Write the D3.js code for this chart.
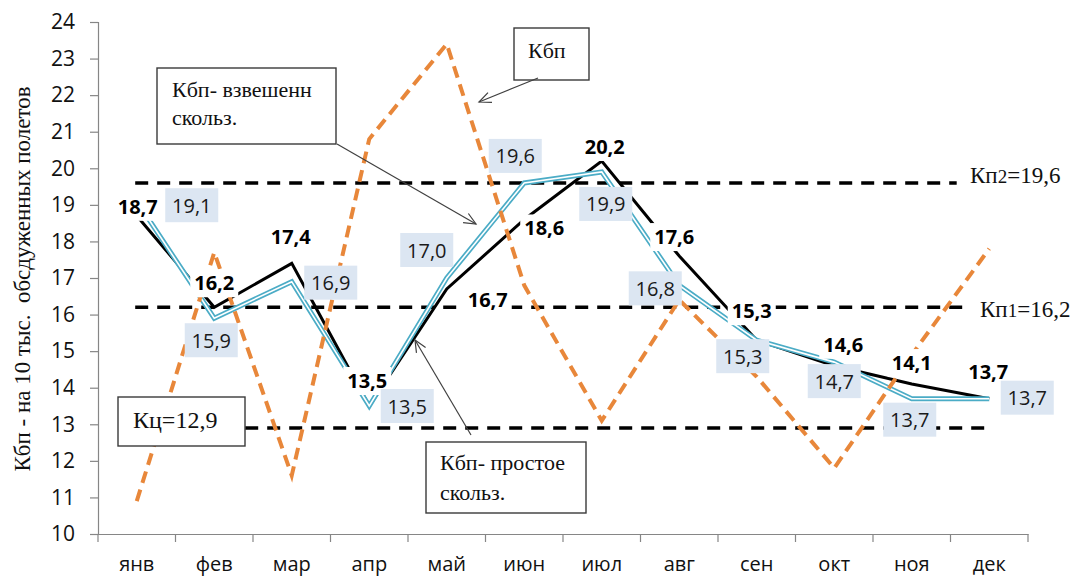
<!DOCTYPE html>
<html>
<head>
<meta charset="utf-8">
<script src="https://cdn.jsdelivr.net/npm/d3@7"></script>
<style>
  html, body { margin: 0; padding: 0; background: #fff; }
  svg { display: block; }
  .serif { font-family: "Liberation Serif", "Times New Roman", serif; fill: #111; }
  .sans { font-family: "Open Sans", "Noto Sans", sans-serif; }
</style>
</head>
<body>
<svg id="chart" width="1078" height="577"></svg>
<script>
// Months of the year
const months = ["янв", "фев", "мар", "апр", "май", "июн", "июл", "авг", "сен", "окт", "ноя", "дек"];

// Кбп — monthly coefficient
const kbp = [10.9, 17.7, 11.6, 20.8, 23.4, 16.8, 13.1, 16.4, 14.3, 11.8, 14.9, 17.8];

// Кбп — simple moving average
const kbpSimple = [18.7, 16.2, 17.4, 13.5, 16.7, 18.6, 20.2, 17.6, 15.3, 14.6, 14.1, 13.7];

// Кбп — weighted moving average
const kbpWeighted = [19.1, 15.9, 16.9, 13.5, 17.0, 19.6, 19.9, 16.8, 15.3, 14.7, 13.7, 13.7];

// Reference levels
const levelNames = ["Кп2", "Кп1", "Кц"];
const levelValues = [19.6, 16.2, 12.9];

// Y axis ticks
const yTickValues = [10, 11, 12, 13, 14, 15, 16, 17, 18, 19, 20, 21, 22, 23, 24];

// ---- layout ----
const svg = d3.select("#chart");
const plot = { left: 98, right: 1028, top: 22, bottom: 534 };

const x = d3.scaleBand().domain(months).range([plot.left, plot.right]).paddingInner(0).paddingOuter(0);
const cx = m => x(m) + x.bandwidth() / 2;
const xIdx = d3.scaleLinear().domain([0, months.length - 1]).range([cx(months[0]), cx(months[months.length - 1])]);
const y = d3.scaleLinear().domain([10, 24]).range([plot.bottom, plot.top]);

const fmt = v => d3.format(".1f")(v).replace(".", ",");

// label placement offsets (dx, dy) from each point
const simpleLabelOffset = [[1,-9],[0,-24],[-1,-26],[-2,-25],[41,11],[20,9],[3,-14],[-5,-19],[-5,-29],[9,-21],[0,-21],[-1,-27]];
const weightedLabelOffset = [[55,4],[-3,22],[39,1],[38,0],[-20,-28],[-9,-27],[4,32],[-24,3],[-14,16],[0,19],[-2,21],[38,-1]];

// ---- axes ----
const gy = svg.append("g").attr("transform", `translate(${plot.left},0)`)
  .call(d3.axisLeft(y).tickValues(yTickValues).tickSize(8).tickPadding(15).tickFormat(d3.format("d")));
gy.select(".domain").attr("stroke", "#868686").attr("stroke-width", 1.2);
gy.selectAll(".tick line").attr("stroke", "#868686").attr("stroke-width", 1.2);
gy.selectAll(".tick text").attr("class", "sans").attr("font-size", 21).attr("fill", "#111");

const gx = svg.append("g").attr("transform", `translate(0,${plot.bottom})`)
  .call(d3.axisBottom(x).tickSize(0).tickPadding(0));
gx.select(".domain").attr("stroke", "#868686").attr("stroke-width", 1.2);
gx.selectAll(".tick text").attr("class", "sans").attr("font-size", 20).attr("fill", "#111")
  .attr("dy", null).attr("y", 37);
// tick marks between categories
const bounds = months.map(m => x(m)).concat([plot.right]);
gx.selectAll(".sep").data(bounds).join("line").attr("class", "sep")
  .attr("x1", d => d).attr("x2", d => d).attr("y1", 0).attr("y2", 8)
  .attr("stroke", "#868686").attr("stroke-width", 1.2);

// y axis title
svg.append("text").attr("class", "serif")
  .attr("transform", "translate(30,279) rotate(-90)")
  .attr("text-anchor", "middle").attr("font-size", 23)
  .style("white-space", "pre")
  .text("Кбп - на 10 тыс.  обсдуженных полетов");

// ---- reference levels ----
const levelEnds = [10.58, 10.66, 10.96];
svg.append("g").selectAll("line").data(levelValues).join("line")
  .attr("x1", xIdx(-0.02)).attr("x2", (d, i) => xIdx(levelEnds[i]))
  .attr("y1", d => y(d)).attr("y2", d => y(d))
  .attr("stroke", "#000").attr("stroke-width", 3.5).attr("stroke-dasharray", "13,9");

// ---- series lines ----
const line = d3.line().x((d, i) => cx(months[i])).y(d => y(d));

svg.append("path").datum(kbpSimple).attr("d", line)
  .attr("fill", "none").attr("stroke", "#000").attr("stroke-width", 3).attr("stroke-linejoin", "miter");

svg.append("path").datum(kbpWeighted).attr("d", line)
  .attr("fill", "none").attr("stroke", "#4bacc6").attr("stroke-width", 5).attr("stroke-linejoin", "miter");
svg.append("path").datum(kbpWeighted).attr("d", line)
  .attr("fill", "none").attr("stroke", "#fff").attr("stroke-width", 1.6).attr("stroke-linejoin", "miter");

svg.append("path").datum(kbp).attr("d", line)
  .attr("fill", "none").attr("stroke", "#e8873a").attr("stroke-width", 4)
  .attr("stroke-dasharray", "12,7").attr("stroke-linejoin", "miter");

// ---- data labels ----
const simpleLabels = svg.append("g").selectAll("g").data(kbpSimple).join("g")
  .attr("transform", (d, i) => `translate(${cx(months[i]) + simpleLabelOffset[i][0]},${y(d) + simpleLabelOffset[i][1]})`);
simpleLabels.append("rect").attr("class", "bg").attr("fill", "#fff");
simpleLabels.append("text").attr("class", "sans").attr("font-size", 20).attr("font-weight", 700)
  .attr("fill", "#000").attr("text-anchor", "middle").attr("y", 7).text(d => fmt(d));
simpleLabels.each(function () {
  const g = d3.select(this);
  const bb = g.select("text").node().getBBox();
  g.select("rect").attr("x", bb.x - 4).attr("y", -14).attr("width", bb.width + 8).attr("height", 28);
});

const weightedLabels = svg.append("g").selectAll("g").data(kbpWeighted).join("g")
  .attr("transform", (d, i) => `translate(${cx(months[i]) + weightedLabelOffset[i][0]},${y(d) + weightedLabelOffset[i][1]})`);
weightedLabels.append("rect").attr("x", -26.5).attr("y", -17).attr("width", 53).attr("height", 34).attr("fill", "#dce6f2");
weightedLabels.append("text").attr("class", "sans").attr("font-size", 20)
  .attr("fill", "#1a1a1a").attr("text-anchor", "middle").attr("y", 7.5).text(d => fmt(d));

// ---- level captions ----
const levelCaption = [[970, 183], [980, 317]];
levelCaption.forEach(([lx, ly], i) => {
  const t = svg.append("text").attr("class", "serif").attr("x", lx).attr("y", ly).attr("font-size", 23);
  t.append("tspan").text(levelNames[i].slice(0, 2));
  t.append("tspan").attr("font-size", 19).text(levelNames[i].slice(2));
  t.append("tspan").text("=" + fmt(levelValues[i]));
});

// ---- callouts ----
function box(x0, y0, w, h) {
  svg.append("rect").attr("x", x0).attr("y", y0).attr("width", w).attr("height", h)
    .attr("fill", "#fff").attr("stroke", "#3a3a3a").attr("stroke-width", 1.4);
}
function arrow(x1, y1, x2, y2) {
  const a = Math.atan2(y2 - y1, x2 - x1), L = 13, s = 0.42;
  svg.append("line").attr("x1", x1).attr("y1", y1).attr("x2", x2).attr("y2", y2)
    .attr("stroke", "#404040").attr("stroke-width", 1.2);
  const p = [[x2 - L * Math.cos(a - s), y2 - L * Math.sin(a - s)], [x2, y2], [x2 - L * Math.cos(a + s), y2 - L * Math.sin(a + s)]];
  svg.append("path").attr("d", d3.line()(p)).attr("fill", "none").attr("stroke", "#404040").attr("stroke-width", 1.2);
}

box(118, 397, 127, 49);
svg.append("text").attr("class", "serif").attr("x", 133).attr("y", 428).attr("font-size", 24)
  .text("Кц=" + fmt(levelValues[2]));

box(157, 68, 179, 76);
svg.append("text").attr("class", "serif").attr("x", 172).attr("y", 97).attr("font-size", 22).text("Кбп- взвешенн");
svg.append("text").attr("class", "serif").attr("x", 172).attr("y", 125).attr("font-size", 22).text("скольз.");

box(514, 28, 75, 52);
svg.append("text").attr("class", "serif").attr("x", 528).attr("y", 58).attr("font-size", 22).text("Кбп");

box(426, 442, 160, 71);
svg.append("text").attr("class", "serif").attr("x", 440).attr("y", 470).attr("font-size", 22).text("Кбп- простое");
svg.append("text").attr("class", "serif").attr("x", 440).attr("y", 500).attr("font-size", 22).text("скольз.");

arrow(538, 78, 479, 102);
arrow(337, 144, 476, 224);
arrow(471, 435, 415, 340);
</script>
</body>
</html>
